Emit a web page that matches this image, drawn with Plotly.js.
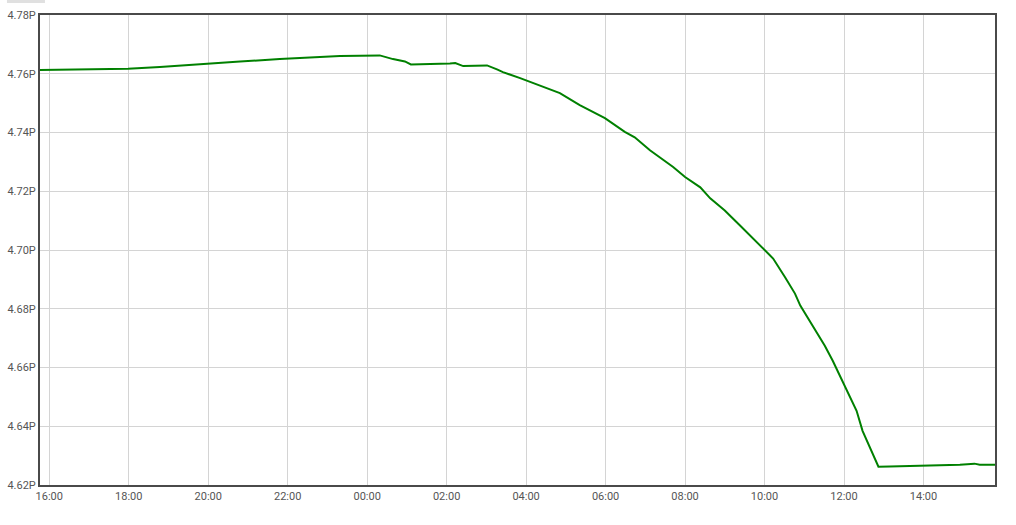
<!DOCTYPE html>
<html>
<head>
<meta charset="utf-8">
<script src="https://cdn.plot.ly/plotly-3.0.1.min.js"></script>
<style>html,body{margin:0;padding:0;background:#fff;}#chart{width:1016px;height:525px;}</style>
</head>
<body>
<div id="chart"></div>
<script>
const times = [
  "2024-01-01 15:46","2024-01-01 16:31","2024-01-01 17:59","2024-01-01 18:47","2024-01-01 19:48",
  "2024-01-01 20:48","2024-01-01 21:48","2024-01-01 22:33",
  "2024-01-01 23:19","2024-01-02 00:19","2024-01-02 00:39","2024-01-02 00:57","2024-01-02 01:06",
  "2024-01-02 02:05","2024-01-02 02:13","2024-01-02 02:25","2024-01-02 03:01","2024-01-02 03:16",
  "2024-01-02 03:25","2024-01-02 03:51","2024-01-02 04:21","2024-01-02 04:51","2024-01-02 05:21",
  "2024-01-02 05:59","2024-01-02 06:29","2024-01-02 06:44","2024-01-02 07:07","2024-01-02 07:42",
  "2024-01-02 08:00","2024-01-02 08:23","2024-01-02 08:38","2024-01-02 09:00","2024-01-02 09:23",
  "2024-01-02 09:43","2024-01-02 10:01","2024-01-02 10:13","2024-01-02 10:31","2024-01-02 10:46",
  "2024-01-02 10:54","2024-01-02 11:12","2024-01-02 11:31","2024-01-02 11:43","2024-01-02 11:54",
  "2024-01-02 12:09","2024-01-02 12:19","2024-01-02 12:28","2024-01-02 12:39","2024-01-02 12:46",
  "2024-01-02 12:52","2024-01-02 13:09","2024-01-02 13:54","2024-01-02 14:55","2024-01-02 15:17",
  "2024-01-02 15:25","2024-01-02 15:48"
];
// values in peta-units (×1e15)
const valuesP = [
  4.76124,4.76134,4.76168,4.76226,4.76328,
  4.76414,4.76499,4.76557,
  4.76601,4.76625,4.76499,4.76420,4.76318,
  4.76352,4.76362,4.76260,4.76284,4.76148,
  4.76055,4.75851,4.75588,4.75339,4.74930,
  4.74486,4.74019,4.73838,4.73394,4.72825,
  4.72484,4.72132,4.71757,4.71347,4.70836,
  4.70392,4.69959,4.69710,4.69072,4.68516,
  4.68107,4.67424,4.66742,4.66231,4.65719,
  4.64979,4.64525,4.63843,4.63273,4.62887,
  4.62625,4.62631,4.62648,4.62692,4.62727,
  4.62692,4.62692
];
const xRange = ["2024-01-01 15:46","2024-01-02 15:48"];
const yRangeP = [4.62, 4.78];

const trace = {
  x: times,
  y: valuesP.map(v => v * 1e15),
  type: 'scatter',
  mode: 'lines',
  line: {color: '#008000', width: 2},
  hoverinfo: 'x+y'
};

const layout = {
  width: 1016, height: 525,
  margin: {l: 40, r: 21, t: 15, b: 40, pad: 0},
  paper_bgcolor: '#fff', plot_bgcolor: '#fff',
  showlegend: false,
  font: {family: 'Roboto, "Open Sans", sans-serif', size: 11, color: '#555'},
  xaxis: {
    type: 'date',
    range: xRange,
    tick0: '2024-01-01 00:00',
    dtick: 7200000,
    tickformat: '%H:%M',
    showgrid: true, gridcolor: '#d4d4d4', gridwidth: 1,
    showline: true, linecolor: '#4a4a4a', linewidth: 2, mirror: true,
    ticks: '', zeroline: false,
    tickfont: {size: 11, color: '#555'}
  },
  yaxis: {
    range: yRangeP.map(v => v * 1e15),
    dtick: 0.02e15,
    tick0: 0,
    tickformat: '.3s',
    showgrid: true, gridcolor: '#d4d4d4', gridwidth: 1,
    showline: true, linecolor: '#4a4a4a', linewidth: 2, mirror: true,
    ticks: '', zeroline: false,
    tickfont: {size: 11, color: '#555'}
  },
  shapes: [{
    type: 'rect', xref: 'paper', yref: 'paper',
    x0: -0.0346, x1: 0.0052, y0: 1.0255, y1: 1.035,
    fillcolor: '#e0e0e0', line: {width: 0}
  }]
};

Plotly.newPlot('chart', [trace], layout, {displayModeBar: false, staticPlot: true});
</script>
</body>
</html>
